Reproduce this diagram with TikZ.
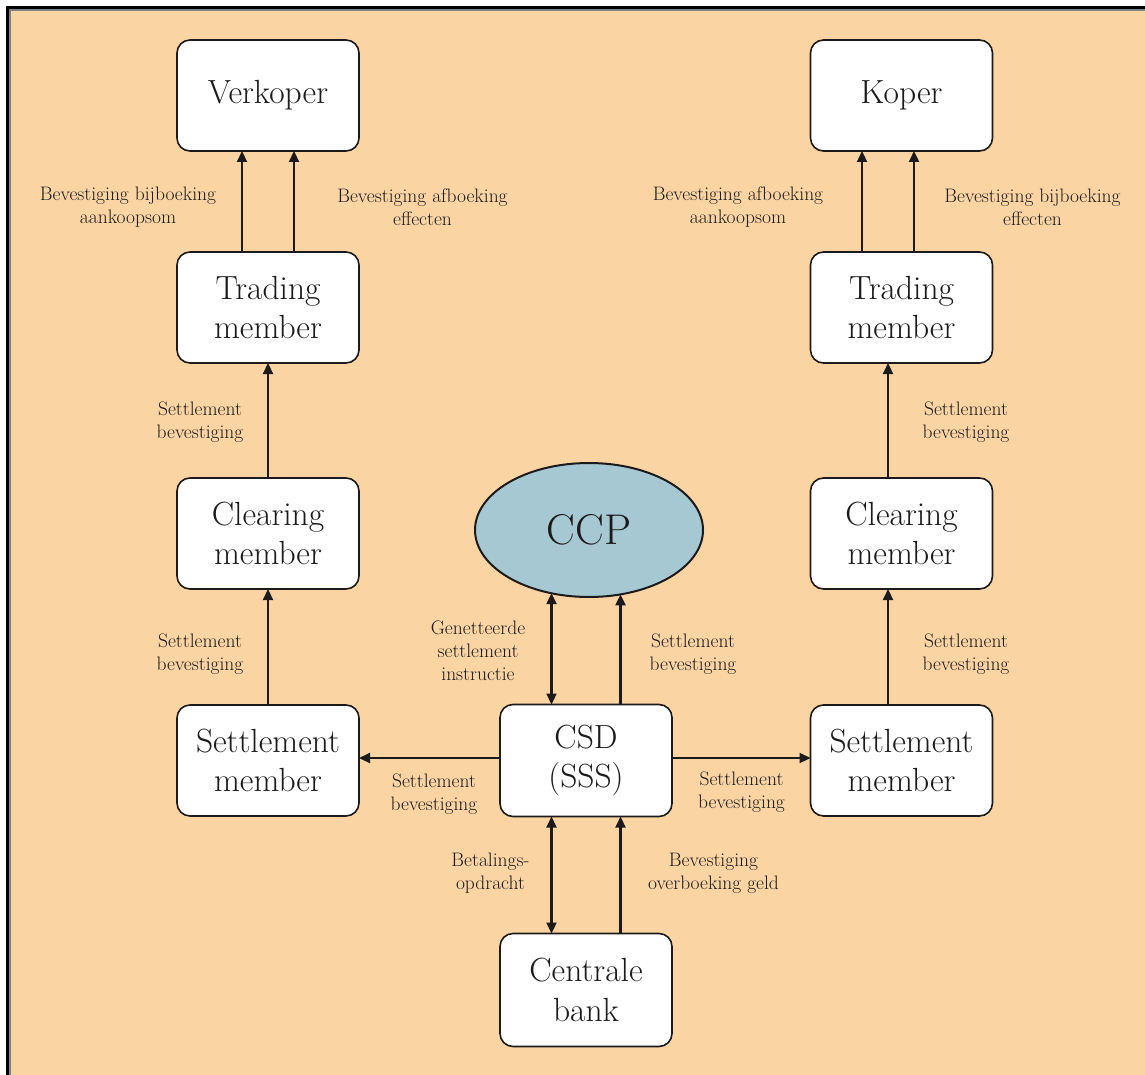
\documentclass[tikz,border=0pt]{standalone}
\usetikzlibrary{shapes.geometric,arrows.meta}
\definecolor{bgpeach}{RGB}{251,212,164}
\definecolor{ccpblue}{RGB}{166,200,210}
\definecolor{ink}{RGB}{28,26,27}
\definecolor{framegray}{RGB}{128,128,128}
\begin{document}
\begin{tikzpicture}[x=1pt,y=-1pt,
  box/.style={draw=ink, line width=1.6pt, fill=white, rounded corners=13pt,
    minimum width=182pt, minimum height=111pt, inner sep=0pt, outer sep=0pt,
    align=center, font=\fontsize{33.5}{39.5}\selectfont, text=ink},
  lbl/.style={align=center, font=\fontsize{19.5}{23}\selectfont, text=ink, inner sep=0pt},
  arr/.style={draw=ink, line width=2.2pt, -{Triangle[length=11pt,width=10pt]}},
  darr/.style={draw=ink, line width=2.2pt, {Triangle[length=11pt,width=10pt]}-{Triangle[length=11pt,width=10pt]}},
]
\useasboundingbox (0,0) rectangle (1145,1075);
\fill[white] (0,0) rectangle (1145,1075);
\clip (0,0) rectangle (1145,1075);
\fill[bgpeach] (11,11) rectangle (1200,1200);
\draw[framegray, line width=2pt] (10,10) rectangle (1200,1200);
\draw[black, line width=3pt] (7.5,7.5) rectangle (1200,1200);

% boxes
\node[box] (verk) at (268,95.5) {Verkoper};
\node[box] (koper) at (901.5,95.5) {Koper};
\node[box] (tmL) at (268,307.5) {Trading\\member};
\node[box] (tmR) at (901.5,307.5) {Trading\\member};
\node[box] (cmL) at (268,533.5) {Clearing\\member};
\node[box] (cmR) at (901.5,533.5) {Clearing\\member};
\node[box] (smL) at (268,760.5) {Settlement\\member};
\node[box] (smR) at (901.5,760.5) {Settlement\\member};
\node[box, minimum width=172pt, minimum height=112pt] (csd) at (586,760.5) {CSD\\(SSS)};
\node[box, minimum width=172pt, minimum height=113pt] (cb) at (586,990) {Centrale\\bank};
\node[ellipse, draw=ink, line width=2pt, fill=ccpblue, minimum width=228pt, minimum height=134pt,
  inner sep=0pt, outer sep=0pt, font=\fontsize{43}{50}\selectfont, text=ink] (ccp) at (589,530) {CCP};

% arrows left column
\draw[arr] ([xshift=-26pt]tmL.north) -- ([xshift=-26pt]verk.south);
\draw[arr] ([xshift=26pt]tmL.north) -- ([xshift=26pt]verk.south);
\draw[arr] (cmL.north) -- (tmL.south);
\draw[arr] (smL.north) -- (cmL.south);
% arrows right column
\draw[arr] ([xshift=-39.5pt]tmR.north) -- ([xshift=-39.5pt]koper.south);
\draw[arr] ([xshift=12.5pt]tmR.north) -- ([xshift=12.5pt]koper.south);
\draw[arr] ([xshift=-13.5pt]cmR.north) -- ([xshift=-13.5pt]tmR.south);
\draw[arr] ([xshift=-13.5pt]smR.north) -- ([xshift=-13.5pt]cmR.south);
% CSD connections
\draw[arr] ([yshift=2.5pt]csd.west) -- ([yshift=2.5pt]smL.east);
\draw[arr] ([yshift=2.5pt]csd.east) -- ([yshift=2.5pt]smR.west);
\draw[darr] ([xshift=-34.5pt]csd.north) -- ([xshift=-34.5pt]csd.north |- ccp.239.4);
\draw[arr] ([xshift=34.5pt]csd.north) -- ([xshift=34.5pt]csd.north |- ccp.296.1);
\draw[darr] ([xshift=-34.5pt]cb.north) -- ([xshift=-34.5pt]csd.south);
\draw[arr] ([xshift=34.5pt]cb.north) -- ([xshift=34.5pt]csd.south);

% labels
\node[lbl] (l1) at (128,207) {Bevestiging bijboeking\\aankoopsom};
\node[lbl] (l2) at (422.5,207) {Bevestiging afboeking\\effecten};
\node[lbl] (l3) at (738,207) {Bevestiging afboeking\\aankoopsom};
\node[lbl] (l4) at (1032.5,207) {Bevestiging bijboeking\\effecten};
\node[lbl] (l5) at (200,422) {Settlement\\bevestiging};
\node[lbl] (l6) at (966,422) {Settlement\\bevestiging};
\node[lbl] (l7) at (200,654) {Settlement\\bevestiging};
\node[lbl] (l8) at (966,654) {Settlement\\bevestiging};
\node[lbl] (l9) at (478,651) {Genetteerde\\settlement\\instructie};
\node[lbl] (l10) at (693,654) {Settlement\\bevestiging};
\node[lbl] (l11) at (434,794) {Settlement\\bevestiging};
\node[lbl] (l12) at (741.5,792) {Settlement\\bevestiging};
\node[lbl] (l13) at (490.5,873) {Betalings-\\opdracht};
\node[lbl] (l14) at (713.5,873) {Bevestiging\\overboeking geld};
\end{tikzpicture}
\end{document}
